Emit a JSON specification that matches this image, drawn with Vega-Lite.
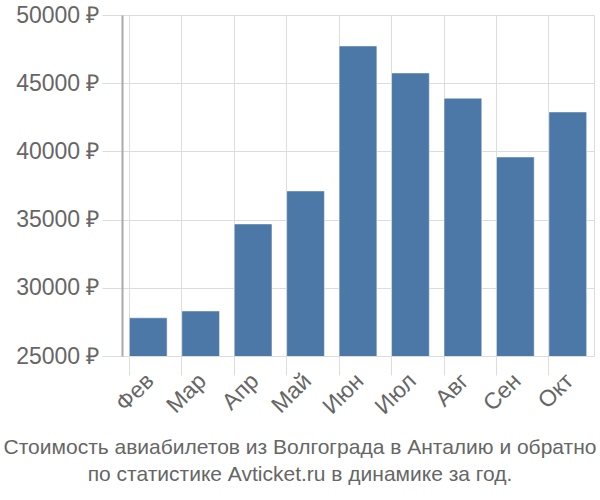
{
  "$schema": "https://vega.github.io/schema/vega-lite/v6.json",
  "width": 472,
  "height": 341,
  "autosize": "none",
  "padding": {"left": 122, "top": 15, "right": 6, "bottom": 144},
  "background": "white",
  "data": {"values": [
    {"month": "Фев", "price": 27800},
    {"month": "Мар", "price": 28300},
    {"month": "Апр", "price": 34680},
    {"month": "Май", "price": 37100},
    {"month": "Июн", "price": 47730},
    {"month": "Июл", "price": 45750},
    {"month": "Авг", "price": 43900},
    {"month": "Сен", "price": 39590},
    {"month": "Окт", "price": 42890}
  ]},
  "title": {
    "text": ["Стоимость авиабилетов из Волгограда в Анталию и обратно", "по статистике Avticket.ru в динамике за год."],
    "orient": "bottom",
    "anchor": "middle",
    "dx": -58,
    "offset": 18,
    "font": "Liberation Sans",
    "fontSize": 21,
    "fontWeight": "normal",
    "color": "#666666",
    "lineHeight": 27
  },
  "mark": {"type": "bar", "color": "#4c78a8", "stroke": "#ffffff", "strokeOpacity": 0.5, "strokeWidth": 1, "clip": true},
  "encoding": {
    "x": {
      "field": "month", "type": "nominal", "sort": null,
      "scale": {"paddingInner": 0.28, "paddingOuter": 0.14},
      "axis": {
        "title": null, "labelAngle": -45, "labelAlign": "right", "labelBaseline": "middle",
        "bandPosition": 0, "labelOffset": 2, "grid": true, "gridColor": "#dddddd", "gridWidth": 1,
        "tickSize": 19, "tickColor": "#dddddd", "domain": false,
        "labelFont": "Liberation Sans", "labelFontSize": 23, "labelColor": "#666666",
        "labelPadding": 2
      }
    },
    "y": {
      "field": "price", "type": "quantitative",
      "scale": {"domain": [25000, 50000], "zero": false, "nice": false},
      "axis": {
        "title": null, "values": [25000, 30000, 35000, 40000, 45000, 50000],
        "labelExpr": "datum.value + ' ₽'",
        "grid": true, "gridColor": "#dddddd", "tickSize": 20, "tickColor": "#dddddd",
        "domain": true, "domainColor": "#aaaaaa", "domainWidth": 2,
        "labelFont": "Liberation Sans", "labelFontSize": 23, "labelColor": "#666666",
        "labelPadding": 3
      }
    }
  },
  "config": {"view": {"stroke": "#dddddd"}}
}
